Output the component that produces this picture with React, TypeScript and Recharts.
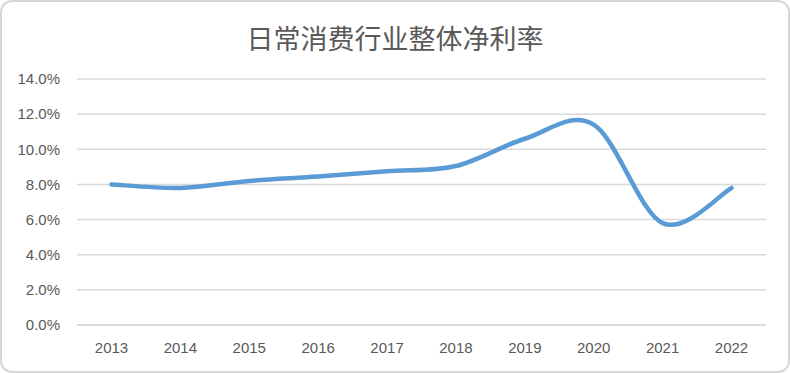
import React from "react";
import { LineChart, Line, XAxis, YAxis, CartesianGrid } from "recharts";

const years = ["2013", "2014", "2015", "2016", "2017", "2018", "2019", "2020", "2021", "2022"];
const netMargin = [8.0, 7.8, 8.2, 8.45, 8.75, 9.05, 10.6, 11.4, 5.8, 7.8];
const yTicks = [0, 2, 4, 6, 8, 10, 12, 14];

const data = years.map((year, i) => ({ year, value: netMargin[i] }));

// Excel-style smoothed line (Catmull-Rom through every point)
const smoothCurve = (context: any) => {
  let xs: number[] = [];
  let ys: number[] = [];
  return {
    areaStart() {},
    areaEnd() {},
    lineStart() {
      xs = [];
      ys = [];
    },
    point(x: number, y: number) {
      xs.push(+x);
      ys.push(+y);
    },
    lineEnd() {
      const n = xs.length;
      if (!n) return;
      context.moveTo(xs[0], ys[0]);
      for (let i = 0; i < n - 1; i++) {
        const a = Math.max(i - 1, 0);
        const d = Math.min(i + 2, n - 1);
        const c1x = xs[i] + (xs[i + 1] - xs[a]) / 6;
        const c1y = ys[i] + (ys[i + 1] - ys[a]) / 6;
        const c2x = xs[i + 1] - (xs[d] - xs[i]) / 6;
        const c2y = ys[i + 1] - (ys[d] - ys[i]) / 6;
        context.bezierCurveTo(c1x, c1y, c2x, c2y, xs[i + 1], ys[i + 1]);
      }
    },
  };
};

const tickStyle = { fill: "#595959", fontSize: 15, fontFamily: "'Liberation Sans', Arial, sans-serif" };

export default function App() {
  return (
    <div style={{ position: "absolute", left: 0, top: 0, width: 790, height: 373, background: "#fff" }}>
      <div
        style={{
          position: "absolute",
          left: 0,
          top: 0,
          width: 790,
          height: 373,
          boxSizing: "border-box",
          border: "2px solid #d6d6d6",
          borderRadius: 12,
          pointerEvents: "none",
        }}
      />
      <div
        style={{
          position: "absolute",
          left: 0,
          top: 18,
          width: 790,
          textAlign: "center",
          fontFamily: "'Noto Sans CJK SC', sans-serif",
          fontSize: 27,
          color: "#595959",
          lineHeight: "40px",
        }}
      >
        日常消费行业整体净利率
      </div>
      <LineChart
        width={790}
        height={373}
        data={data}
        margin={{ top: 79, right: 24, left: 0, bottom: 18 }}
      >
        <CartesianGrid vertical={false} stroke="#d9d9d9" strokeWidth={1.5} />
        <XAxis
          dataKey="year"
          height={30}
          padding={{ left: 34.5, right: 34.5 }}
          tickLine={false}
          tickSize={0}
          tickMargin={17}
          axisLine={{ stroke: "#d9d9d9", strokeWidth: 1.5 }}
          tick={tickStyle}
        />
        <YAxis
          width={77}
          domain={[0, 14]}
          ticks={yTicks}
          tickFormatter={(v: number) => v.toFixed(1) + "%"}
          axisLine={false}
          tickLine={false}
          tickSize={0}
          tickMargin={17}
          tick={tickStyle}
        />
        <Line
          dataKey="value"
          type={smoothCurve as any}
          stroke="#5b9bd5"
          strokeWidth={4.5}
          strokeLinecap="round"
          dot={false}
          isAnimationActive={false}
        />
      </LineChart>
    </div>
  );
}
